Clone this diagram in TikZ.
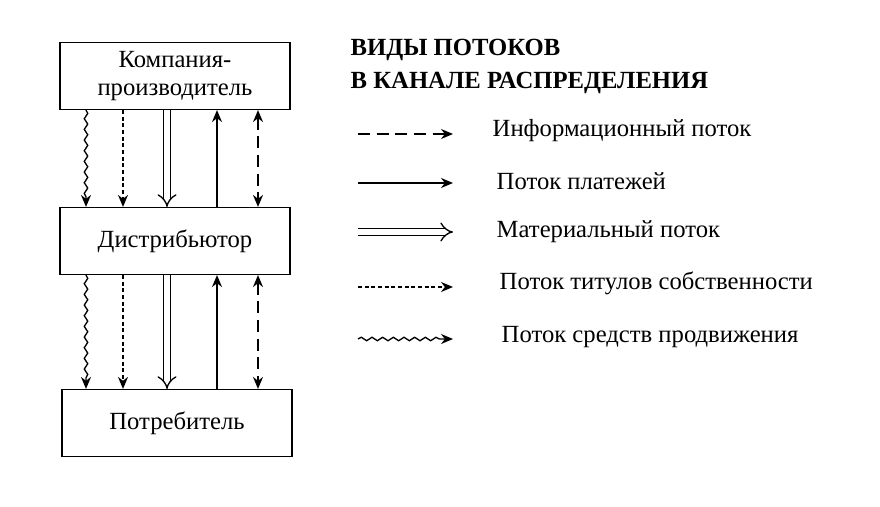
\documentclass[tikz,border=0pt]{standalone}
\usepackage{fontspec}
\setmainfont{Liberation Serif}
\usetikzlibrary{arrows.meta,decorations.pathmorphing}
\begin{document}
\begin{tikzpicture}[x=0.75pt,y=-0.75pt,
 box/.style={draw,line width=1.1pt,minimum width=172.5pt,minimum height=50pt,font=\fontsize{18.5}{21}\selectfont,align=center,inner sep=1pt},
 tip/.style={-{Stealth[length=9pt,width=7.5pt]}},
 info/.style={tip,line width=1pt,dash pattern=on 9pt off 5pt},
 pay/.style={tip,line width=1pt},
 mat/.style={double,double distance=4pt,line width=1pt,-{Implies[length=9pt,width=14pt]}},
 title/.style={tip,line width=1pt,dash pattern=on 3pt off 2pt},
 promo/.style={tip,line width=1pt,decorate,decoration={snake,amplitude=1.3pt,segment length=8pt,post length=7pt}},
 lab/.style={anchor=west,font=\fontsize{18.5}{20}\selectfont}]
\useasboundingbox (0,0) rectangle (880,506);
\fill[white] (0,0) rectangle (880,506);
\node[box] (A) at (175,76) {Компания-\\производитель};
\node[box] (B) at (175,241) {Дистрибьютор};
\node[box] (C) at (177,423) {Потребитель};
\foreach \u/\l in {A/B,B/C}{
 \draw[promo] (\u.south -| 86,0) -- (\l.north -| 86,0);
 \draw[title] (\u.south -| 123,0) -- (\l.north -| 123,0);
 \draw[mat] (\u.south -| 167,0) -- (\l.north -| 167,0);
 \draw[pay] (\l.north -| 217,0) -- (\u.south -| 217,0);
 \draw[info,{Stealth[length=9pt,width=7.5pt]}-{Stealth[length=9pt,width=7.5pt]}] (\u.south -| 258,0) -- (\l.north -| 258,0);
}
\node[anchor=west,font=\bfseries\fontsize{18.5}{20}\selectfont] (T1) at (346,50) {ВИДЫ ПОТОКОВ};
\node[anchor=west,font=\bfseries\fontsize{18.5}{20}\selectfont] (T2) at (346,83) {В КАНАЛЕ РАСПРЕДЕЛЕНИЯ};
\foreach \y/\s [count=\i] in {134/info,183/pay,232/mat,287/title,339/promo}{
 \coordinate (s\i) at (358,\y); \coordinate (e\i) at (453,\y);
 \draw[\s] (s\i) -- (e\i);
}
\node[lab] at (488,131) {Информационный поток};
\node[lab] at (492,181) {Поток платежей};
\node[lab] at (492,232) {Материальный поток};
\node[lab] at (495,283) {Поток титулов собственности};
\node[lab] at (497,337) {Поток средств продвижения};
\end{tikzpicture}
\end{document}
